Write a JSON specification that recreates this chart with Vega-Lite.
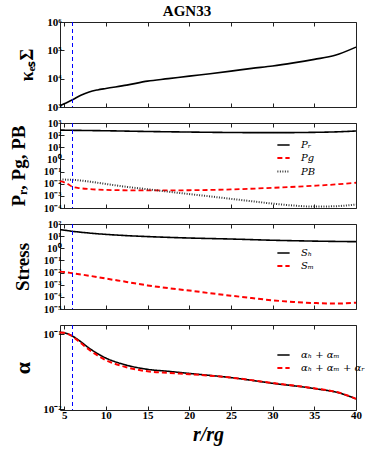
{
  "$schema": "https://vega.github.io/schema/vega-lite/v6.json",
  "autosize": {"type": "none"},
  "padding": {"left": 60, "top": 22, "right": 314, "bottom": 435},
  "background": "white",
  "bounds": "flush",
  "title": {"text": "AGN33", "font": "Liberation Serif", "fontSize": 15, "fontWeight": "bold", "color": "#000", "anchor": "middle", "offset": -3},
  "config": {
    "view": {"stroke": "#222", "strokeWidth": 1},
    "axis": {"labelFont": "Liberation Serif", "labelFontWeight": "bold", "labelFontSize": 11, "labelColor": "#000", "titleFont": "Liberation Serif", "titleFontWeight": "bold", "titleColor": "#000", "domain": false, "grid": false, "tickColor": "#222", "tickSize": -4, "labelPadding": 3, "labelOverlap": false, "labelFlush": false},
    "legend": {"orient": "none", "title": null, "symbolType": "stroke", "symbolSize": 150, "symbolStrokeWidth": 1.8, "labelFont": "DejaVu Serif", "labelFontStyle": "italic", "labelFontSize": 10, "labelColor": "#000", "labelOffset": 10, "rowPadding": 0.5, "padding": 0, "symbolOffset": 0},
    "line": {"interpolate": "monotone"}
  },
  "data": {"values": [
    {"p":1,"s":"k","r":4.5,"v":1100},{"p":1,"s":"k","r":5,"v":1300},{"p":1,"s":"k","r":6,"v":1800},{"p":1,"s":"k","r":7,"v":2600},{"p":1,"s":"k","r":8,"v":3400},{"p":1,"s":"k","r":9,"v":4000},{"p":1,"s":"k","r":10,"v":4500},{"p":1,"s":"k","r":12.5,"v":5900},{"p":1,"s":"k","r":15,"v":8200},{"p":1,"s":"k","r":17.5,"v":10000},{"p":1,"s":"k","r":20,"v":12300},{"p":1,"s":"k","r":22.5,"v":15000},{"p":1,"s":"k","r":25,"v":18500},{"p":1,"s":"k","r":27.5,"v":23000},{"p":1,"s":"k","r":30,"v":28000},{"p":1,"s":"k","r":32.5,"v":36000},{"p":1,"s":"k","r":35,"v":48000},{"p":1,"s":"k","r":37.5,"v":67000},{"p":1,"s":"k","r":40,"v":130000},

    {"p":2,"s":"Pᵣ","r":4.5,"v":260},{"p":2,"s":"Pᵣ","r":6,"v":250},{"p":2,"s":"Pᵣ","r":8,"v":240},{"p":2,"s":"Pᵣ","r":10,"v":230},{"p":2,"s":"Pᵣ","r":15,"v":200},{"p":2,"s":"Pᵣ","r":20,"v":180},{"p":2,"s":"Pᵣ","r":25,"v":165},{"p":2,"s":"Pᵣ","r":30,"v":160},{"p":2,"s":"Pᵣ","r":35,"v":170},{"p":2,"s":"Pᵣ","r":38,"v":190},{"p":2,"s":"Pᵣ","r":40,"v":220},

    {"p":2,"s":"Pg","r":4.5,"v":0.016},{"p":2,"s":"Pg","r":5,"v":0.013},{"p":2,"s":"Pg","r":5.5,"v":0.009},{"p":2,"s":"Pg","r":6,"v":0.0055},{"p":2,"s":"Pg","r":7,"v":0.0042},{"p":2,"s":"Pg","r":8,"v":0.0036},{"p":2,"s":"Pg","r":10,"v":0.0031},{"p":2,"s":"Pg","r":12,"v":0.0029},{"p":2,"s":"Pg","r":15,"v":0.0028},{"p":2,"s":"Pg","r":20,"v":0.0029},{"p":2,"s":"Pg","r":25,"v":0.0034},{"p":2,"s":"Pg","r":30,"v":0.0046},{"p":2,"s":"Pg","r":35,"v":0.0068},{"p":2,"s":"Pg","r":38,"v":0.0092},{"p":2,"s":"Pg","r":40,"v":0.012},

    {"p":2,"s":"PB","r":4.5,"v":0.022},{"p":2,"s":"PB","r":6,"v":0.021},{"p":2,"s":"PB","r":8,"v":0.015},{"p":2,"s":"PB","r":10,"v":0.0095},{"p":2,"s":"PB","r":12.5,"v":0.0055},{"p":2,"s":"PB","r":15,"v":0.0035},{"p":2,"s":"PB","r":17.5,"v":0.0022},{"p":2,"s":"PB","r":20,"v":0.0014},{"p":2,"s":"PB","r":22.5,"v":0.0009},{"p":2,"s":"PB","r":25,"v":0.00057},{"p":2,"s":"PB","r":27.5,"v":0.00036},{"p":2,"s":"PB","r":30,"v":0.00023},{"p":2,"s":"PB","r":32.5,"v":0.00016},{"p":2,"s":"PB","r":35,"v":0.00013},{"p":2,"s":"PB","r":37.5,"v":0.00014},{"p":2,"s":"PB","r":40,"v":0.00019},

    {"p":3,"s":"Sₕ","r":4.5,"v":34},{"p":3,"s":"Sₕ","r":5,"v":31},{"p":3,"s":"Sₕ","r":6,"v":25},{"p":3,"s":"Sₕ","r":7,"v":21},{"p":3,"s":"Sₕ","r":8,"v":18},{"p":3,"s":"Sₕ","r":10,"v":14},{"p":3,"s":"Sₕ","r":12,"v":11.5},{"p":3,"s":"Sₕ","r":15,"v":9.2},{"p":3,"s":"Sₕ","r":20,"v":7},{"p":3,"s":"Sₕ","r":25,"v":5.8},{"p":3,"s":"Sₕ","r":30,"v":4.6},{"p":3,"s":"Sₕ","r":35,"v":3.9},{"p":3,"s":"Sₕ","r":40,"v":3.5},

    {"p":3,"s":"Sₘ","r":4.5,"v":0.012},{"p":3,"s":"Sₘ","r":5,"v":0.011},{"p":3,"s":"Sₘ","r":6,"v":0.0088},{"p":3,"s":"Sₘ","r":8,"v":0.0055},{"p":3,"s":"Sₘ","r":10,"v":0.0032},{"p":3,"s":"Sₘ","r":12.5,"v":0.0017},{"p":3,"s":"Sₘ","r":15,"v":0.00088},{"p":3,"s":"Sₘ","r":17.5,"v":0.00052},{"p":3,"s":"Sₘ","r":20,"v":0.00033},{"p":3,"s":"Sₘ","r":22.5,"v":0.0002},{"p":3,"s":"Sₘ","r":25,"v":0.000125},{"p":3,"s":"Sₘ","r":27.5,"v":0.00008},{"p":3,"s":"Sₘ","r":30,"v":0.000052},{"p":3,"s":"Sₘ","r":32.5,"v":0.000038},{"p":3,"s":"Sₘ","r":35,"v":0.000031},{"p":3,"s":"Sₘ","r":37.5,"v":0.000028},{"p":3,"s":"Sₘ","r":40,"v":0.000033},

    {"p":4,"s":"αₕ + αₘ","r":4.5,"v":0.105},{"p":4,"s":"αₕ + αₘ","r":5,"v":0.104},{"p":4,"s":"αₕ + αₘ","r":5.5,"v":0.1},{"p":4,"s":"αₕ + αₘ","r":6,"v":0.094},{"p":4,"s":"αₕ + αₘ","r":7,"v":0.079},{"p":4,"s":"αₕ + αₘ","r":8,"v":0.065},{"p":4,"s":"αₕ + αₘ","r":9,"v":0.055},{"p":4,"s":"αₕ + αₘ","r":10,"v":0.048},{"p":4,"s":"αₕ + αₘ","r":12,"v":0.04},{"p":4,"s":"αₕ + αₘ","r":15,"v":0.034},{"p":4,"s":"αₕ + αₘ","r":17.5,"v":0.032},{"p":4,"s":"αₕ + αₘ","r":20,"v":0.03},{"p":4,"s":"αₕ + αₘ","r":25,"v":0.0264},{"p":4,"s":"αₕ + αₘ","r":30,"v":0.0222},{"p":4,"s":"αₕ + αₘ","r":35,"v":0.0189},{"p":4,"s":"αₕ + αₘ","r":38,"v":0.0165},{"p":4,"s":"αₕ + αₘ","r":40,"v":0.0138},

    {"p":4,"s":"αₕ + αₘ + αᵣ","r":4.5,"v":0.105},{"p":4,"s":"αₕ + αₘ + αᵣ","r":5,"v":0.104},{"p":4,"s":"αₕ + αₘ + αᵣ","r":5.5,"v":0.1},{"p":4,"s":"αₕ + αₘ + αᵣ","r":6,"v":0.093},{"p":4,"s":"αₕ + αₘ + αᵣ","r":7,"v":0.076},{"p":4,"s":"αₕ + αₘ + αᵣ","r":8,"v":0.062},{"p":4,"s":"αₕ + αₘ + αᵣ","r":9,"v":0.052},{"p":4,"s":"αₕ + αₘ + αᵣ","r":10,"v":0.045},{"p":4,"s":"αₕ + αₘ + αᵣ","r":12,"v":0.0375},{"p":4,"s":"αₕ + αₘ + αᵣ","r":15,"v":0.032},{"p":4,"s":"αₕ + αₘ + αᵣ","r":17.5,"v":0.0305},{"p":4,"s":"αₕ + αₘ + αᵣ","r":20,"v":0.0293},{"p":4,"s":"αₕ + αₘ + αᵣ","r":25,"v":0.0264},{"p":4,"s":"αₕ + αₘ + αᵣ","r":30,"v":0.0224},{"p":4,"s":"αₕ + αₘ + αᵣ","r":35,"v":0.019},{"p":4,"s":"αₕ + αₘ + αᵣ","r":38,"v":0.0166},{"p":4,"s":"αₕ + αₘ + αᵣ","r":40,"v":0.0138}
  ]},
  "spacing": 16,
  "resolve": {"scale": {"y": "independent", "color": "independent", "strokeDash": "independent", "strokeWidth": "independent"}, "legend": {"color": "independent", "strokeDash": "independent"}},
  "vconcat": [
    {
      "width": 296, "height": 85,
      "resolve": {"axis": {"x": "independent"}},
      "layer": [
        {"transform": [{"filter": "datum.p == 1"}], "mark": {"type": "line", "color": "#000", "strokeWidth": 1.6},
         "encoding": {
           "x": {"field": "r", "type": "quantitative", "scale": {"domain": [4.5, 40], "nice": false, "zero": false}, "axis": {"values": [5,10,15,20,25,30,35,40], "labels": false, "title": null}},
           "y": {"field": "v", "type": "quantitative", "scale": {"type": "log", "domain": [1000, 1000000], "nice": false}, "axis": {"values": [1000,10000,100000,1000000], "labelExpr": "'10' + ['⁻⁵','⁻⁴','⁻³','⁻²','⁻¹','⁰','¹','²','³','⁴','⁵','⁶'][round(log(datum.value)/LN10)+5]", "title": "κₑₛΣ", "titleFontSize": 18, "titleX": -33, "titleBaseline": "middle"}}
         }},
        {"data": {"values": [{"r": 6}]}, "mark": {"type": "rule", "color": "#0000ff", "strokeWidth": 1, "strokeDash": [4, 3]},
         "encoding": {"x": {"field": "r", "type": "quantitative", "axis": {"orient": "top", "values": [5,10,15,20,25,30,35,40], "labels": false, "title": null}}}}
      ]
    },
    {
      "width": 296, "height": 85,
      "resolve": {"axis": {"x": "independent"}},
      "layer": [
        {"transform": [{"filter": "datum.p == 2"}], "mark": {"type": "line"},
         "encoding": {
           "x": {"field": "r", "type": "quantitative", "scale": {"domain": [4.5, 40], "nice": false, "zero": false}, "axis": {"values": [5,10,15,20,25,30,35,40], "labels": false, "title": null}},
           "y": {"field": "v", "type": "quantitative", "scale": {"type": "log", "domain": [0.0001, 1000], "nice": false}, "axis": {"values": [0.0001,0.001,0.01,0.1,1,10,100,1000], "labelExpr": "'10' + ['⁻⁵','⁻⁴','⁻³','⁻²','⁻¹','⁰','¹','²','³','⁴','⁵','⁶'][round(log(datum.value)/LN10)+5]", "labelFontSize": 10.5, "title": "Pᵣ, Pg, PB", "titleFontSize": 19, "titleX": -42, "titleBaseline": "middle"}},
           "color": {"field": "s", "type": "nominal", "scale": {"domain": ["Pᵣ", "Pg", "PB"], "range": ["#000000", "#ff0000", "#333333"]}, "legend": {"legendX": 216, "legendY": 15}},
           "strokeDash": {"field": "s", "type": "nominal", "scale": {"domain": ["Pᵣ", "Pg", "PB"], "range": [[1, 0], [5, 3], [1, 1.5]]}, "legend": {"legendX": 216, "legendY": 15}},
           "strokeWidth": {"field": "s", "type": "nominal", "scale": {"domain": ["Pᵣ", "Pg", "PB"], "range": [1.6, 2, 1.2]}, "legend": null}
         }},
        {"data": {"values": [{"r": 6}]}, "mark": {"type": "rule", "color": "#0000ff", "strokeWidth": 1, "strokeDash": [4, 3]},
         "encoding": {"x": {"field": "r", "type": "quantitative", "axis": {"orient": "top", "values": [5,10,15,20,25,30,35,40], "labels": false, "title": null}}}}
      ]
    },
    {
      "width": 296, "height": 85,
      "resolve": {"axis": {"x": "independent"}},
      "layer": [
        {"transform": [{"filter": "datum.p == 3"}], "mark": {"type": "line"},
         "encoding": {
           "x": {"field": "r", "type": "quantitative", "scale": {"domain": [4.5, 40], "nice": false, "zero": false}, "axis": {"values": [5,10,15,20,25,30,35,40], "labels": false, "title": null}},
           "y": {"field": "v", "type": "quantitative", "scale": {"type": "log", "domain": [0.00001, 100], "nice": false}, "axis": {"values": [0.00001,0.0001,0.001,0.01,0.1,1,10,100], "labelExpr": "'10' + ['⁻⁵','⁻⁴','⁻³','⁻²','⁻¹','⁰','¹','²','³','⁴','⁵','⁶'][round(log(datum.value)/LN10)+5]", "labelFontSize": 10.5, "title": "Stress", "titleFontSize": 19, "titleX": -38, "titleBaseline": "middle"}},
           "color": {"field": "s", "type": "nominal", "scale": {"domain": ["Sₕ", "Sₘ"], "range": ["#000000", "#ff0000"]}, "legend": {"legendX": 216, "legendY": 22}},
           "strokeDash": {"field": "s", "type": "nominal", "scale": {"domain": ["Sₕ", "Sₘ"], "range": [[1, 0], [5, 3]]}, "legend": {"legendX": 216, "legendY": 22}},
           "strokeWidth": {"field": "s", "type": "nominal", "scale": {"domain": ["Sₕ", "Sₘ"], "range": [1.6, 2]}, "legend": null}
         }},
        {"data": {"values": [{"r": 6}]}, "mark": {"type": "rule", "color": "#0000ff", "strokeWidth": 1, "strokeDash": [4, 3]},
         "encoding": {"x": {"field": "r", "type": "quantitative", "axis": {"orient": "top", "values": [5,10,15,20,25,30,35,40], "labels": false, "title": null}}}}
      ]
    },
    {
      "width": 296, "height": 85,
      "resolve": {"axis": {"x": "independent"}},
      "layer": [
        {"transform": [{"filter": "datum.p == 4"}], "mark": {"type": "line"},
         "encoding": {
           "x": {"field": "r", "type": "quantitative", "scale": {"domain": [4.5, 40], "nice": false, "zero": false}, "axis": {"values": [5,10,15,20,25,30,35,40], "title": "r/rg", "titleFontSize": 20, "titleFontStyle": "italic", "titlePadding": 4}},
           "y": {"field": "v", "type": "quantitative", "scale": {"type": "log", "domain": [0.0098, 0.132], "nice": false}, "axis": {"values": [0.01, 0.1], "labelExpr": "'10' + ['⁻⁵','⁻⁴','⁻³','⁻²','⁻¹','⁰','¹','²','³','⁴','⁵','⁶'][round(log(datum.value)/LN10)+5]", "title": "α", "titleFontSize": 22, "titleX": -38, "titleBaseline": "middle"}},
           "color": {"field": "s", "type": "nominal", "scale": {"domain": ["αₕ + αₘ", "αₕ + αₘ + αᵣ"], "range": ["#000000", "#ff0000"]}, "legend": {"legendX": 216, "legendY": 23}},
           "strokeDash": {"field": "s", "type": "nominal", "scale": {"domain": ["αₕ + αₘ", "αₕ + αₘ + αᵣ"], "range": [[1, 0], [5, 3]]}, "legend": {"legendX": 216, "legendY": 23}},
           "strokeWidth": {"field": "s", "type": "nominal", "scale": {"domain": ["αₕ + αₘ", "αₕ + αₘ + αᵣ"], "range": [1.6, 2]}, "legend": null}
         }},
        {"data": {"values": [{"r": 6}]}, "mark": {"type": "rule", "color": "#0000ff", "strokeWidth": 1, "strokeDash": [4, 3]},
         "encoding": {"x": {"field": "r", "type": "quantitative", "axis": {"orient": "top", "values": [5,10,15,20,25,30,35,40], "labels": false, "title": null}}}}
      ]
    }
  ]
}
